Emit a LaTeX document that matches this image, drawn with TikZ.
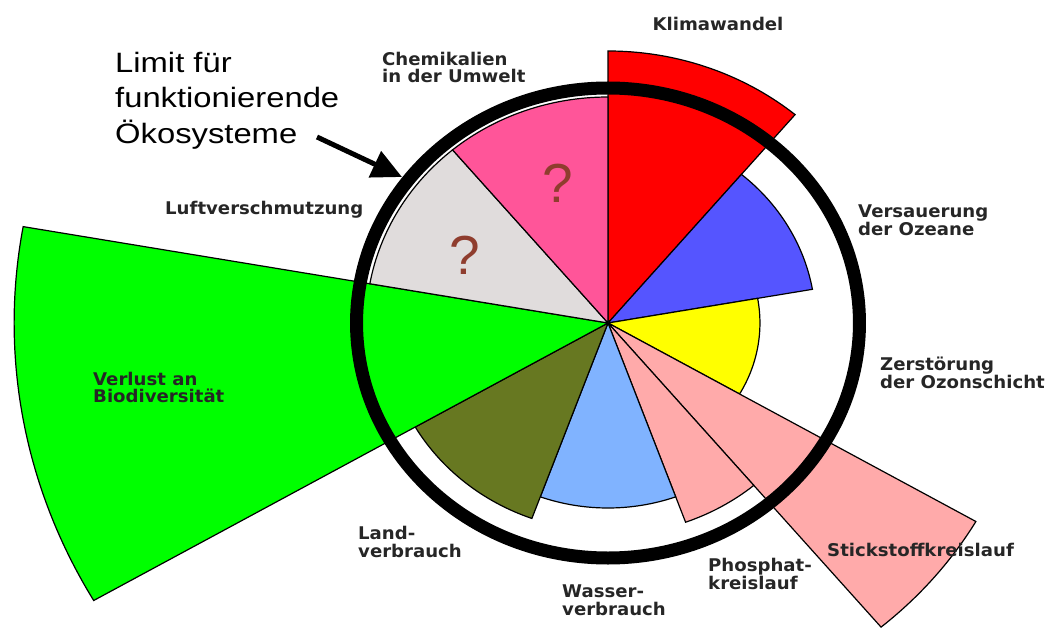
\documentclass[tikz,border=0pt]{standalone}
\usepackage{fontspec}
\setmainfont{DejaVu Sans}
\newfontfamily\lblfont[FakeStretch=1.035]{DejaVu Sans}
\newfontfamily\limitfont[FakeStretch=1.17]{Liberation Sans}
\newfontfamily\qfont{Liberation Sans}
\usetikzlibrary{arrows.meta}
\definecolor{klima}{HTML}{FF0000}
\definecolor{ozean}{HTML}{5555FF}
\definecolor{ozon}{HTML}{FFFF00}
\definecolor{nitro}{HTML}{FFAAAA}
\definecolor{wasser}{HTML}{80B3FF}
\definecolor{land}{HTML}{677821}
\definecolor{bio}{HTML}{00FF00}
\definecolor{luft}{HTML}{E0DCDC}
\definecolor{chem}{HTML}{FF5599}
\definecolor{qbrown}{HTML}{8F3D2E}
\newcommand\wedgeseg[4]{\filldraw[wedge, fill=#4] (0,0) -- (#1:#3) arc[start angle=#1, end angle=#2, radius=#3] -- cycle;}
\begin{document}
\begin{tikzpicture}[x=1pt,y=1pt,
  wedge/.style={draw=black, line width=1.2pt, line join=miter},
  lbl/.style={font=\lblfont\fontsize{17.5}{17.5}\selectfont\bfseries, inner sep=0pt, anchor=north west, align=left, text=black!85},
  qmark/.style={font=\qfont\fontsize{55}{55}\selectfont, text=qbrown, inner sep=0pt},
  limitlbl/.style={font=\limitfont\fontsize{28}{35.5}\selectfont, inner sep=0pt, anchor=north west, align=left},
  ringline/.style={draw=black, line width=13pt},
  pointer/.style={line width=5pt, -{Triangle[length=30pt,width=28pt]}}
  ]
\useasboundingbox (0,0) rectangle (1049,630);
\begin{scope}[shift={(608,307)}, xscale=1.07]
  \wedgeseg{50}{90}{272}{klima}
  \wedgeseg{10}{50}{194}{ozean}
  \wedgeseg{-30}{10}{142}{ozon}
  \wedgeseg{-50}{-30}{397}{nitro}
  \wedgeseg{-70}{-50}{212}{nitro}
  \wedgeseg{-110}{-70}{185}{wasser}
  \wedgeseg{-150}{-110}{208}{land}
  \wedgeseg{170}{210}{555}{bio}
  \wedgeseg{130}{170}{226}{luft}
  \wedgeseg{90}{130}{226}{chem}
  \draw[ringline] (0,0) ellipse [radius=235];
\end{scope}
\node[qmark] (q1) at (558,447) {?};
\node[qmark] (q2) at (465,375) {?};
\node[lbl, anchor=north] (klimalbl) at (718,613) {Klimawandel};
\node[lbl] (chemlbl) at (382,578) {Chemikalien\\in der Umwelt};
\node[lbl] (luftlbl) at (165,429) {Luftverschmutzung};
\node[lbl] (ozeanlbl) at (858,425) {Versauerung\\der Ozeane};
\node[lbl] (ozonlbl) at (880,273) {Zerstörung\\der Ozonschicht};
\node[lbl] (nitrolbl) at (827,87) {Stickstoffkreislauf};
\node[lbl] (phoslbl) at (708,72) {Phosphat-\\kreislauf};
\node[lbl] (wasserlbl) at (562,45) {Wasser-\\verbrauch};
\node[lbl] (landlbl) at (358,104) {Land-\\verbrauch};
\node[lbl] (biolbl) at (93,258) {Verlust an\\Biodiversität};
\node[limitlbl] (limit) at (115,578) {Limit für\\funktionierende\\Ökosysteme};
\coordinate (arrstart) at (317,493);
\coordinate (ringpt) at (402,453);
\draw[pointer] (arrstart) -- (ringpt);
\end{tikzpicture}
\end{document}
